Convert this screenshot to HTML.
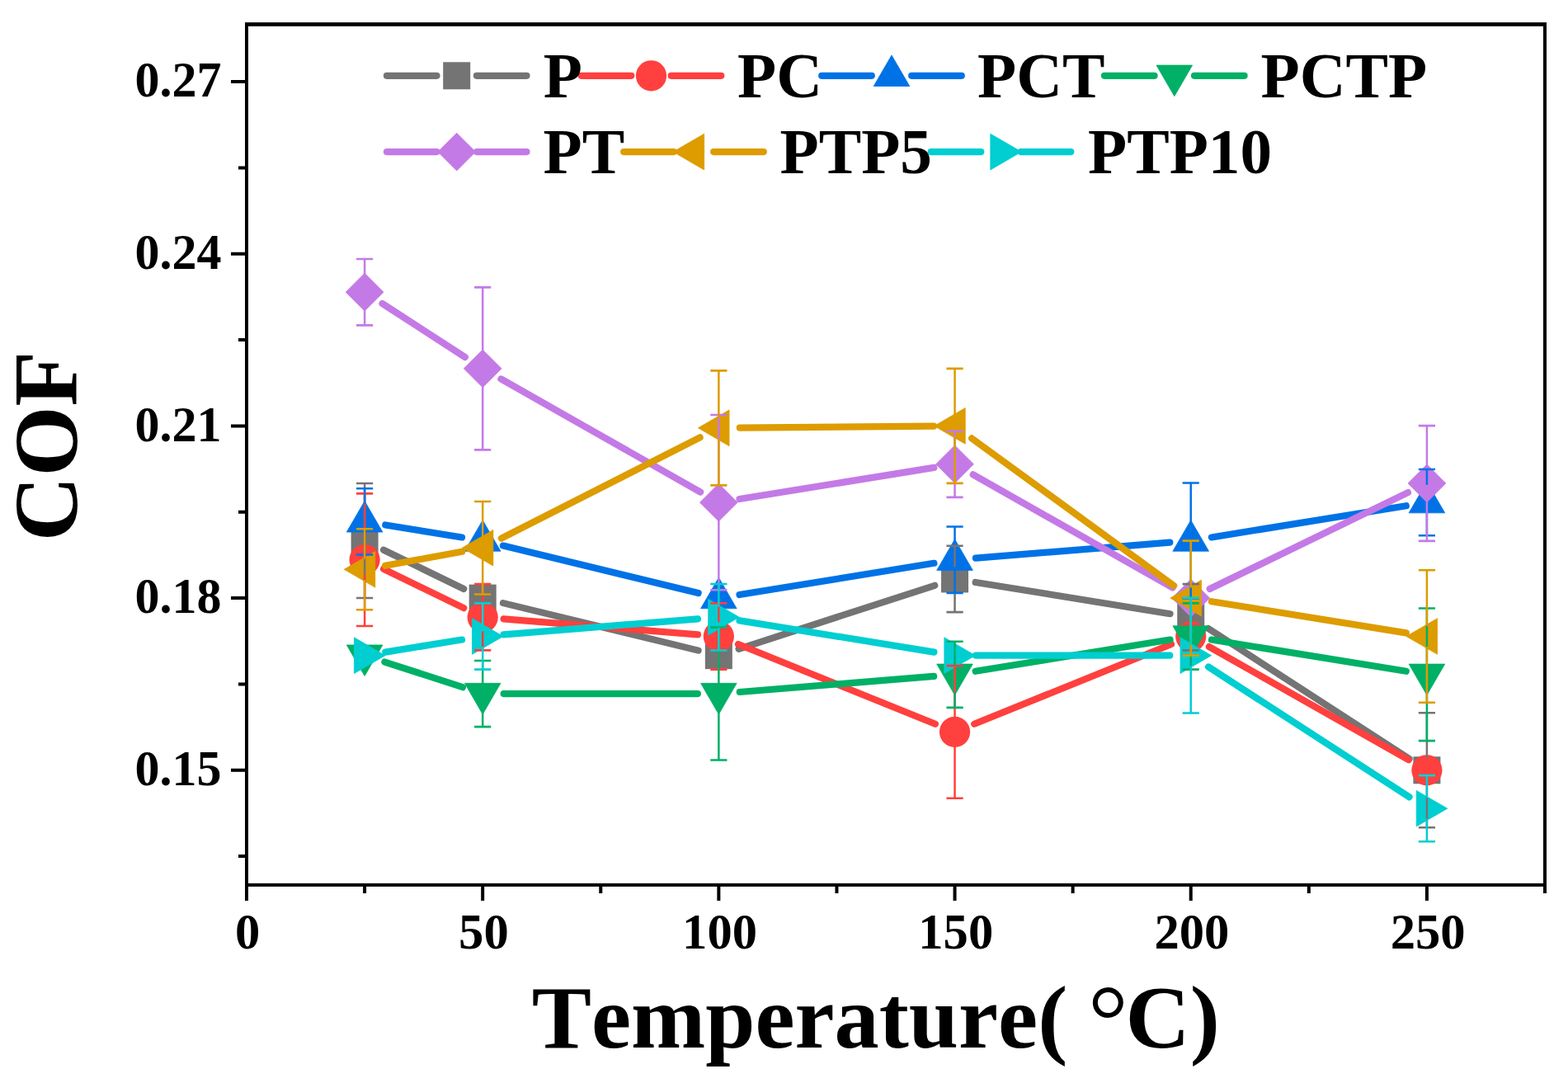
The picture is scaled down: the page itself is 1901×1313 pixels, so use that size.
<!DOCTYPE html>
<html lang="en"><head><meta charset="utf-8"><title>COF vs Temperature</title>
<style>html,body{margin:0;padding:0;background:#fff;}body{width:1901px;height:1313px;overflow:hidden;}svg{display:block;}text{font-family:"Liberation Serif","Times New Roman",Times,serif;font-weight:bold;fill:#000;font-kerning:none;font-variant-ligatures:none;}</style>
</head><body>
<svg width="1901" height="1313" viewBox="0 0 1901 1313">
<rect x="0" y="0" width="1901" height="1313" fill="#fff"/>
<g id="series">
<path d="M465.02 666.69L562.25 713.95M609.96 731.12L846.59 788.64M895.62 786.8L1133.29 709.8M1182.72 706.01L1418.55 744.19M1465.12 762.13L1708.51 919.91" fill="none" stroke="#747474" stroke-width="8.2" stroke-linecap="round"/>
<rect x="425.59" y="639.04" width="33" height="33" fill="#747474"/>
<rect x="568.68" y="708.6" width="33" height="33" fill="#747474"/>
<rect x="854.86" y="778.16" width="33" height="33" fill="#747474"/>
<rect x="1141.05" y="685.44" width="33" height="33" fill="#747474"/>
<rect x="1427.23" y="731.76" width="33" height="33" fill="#747474"/>
<rect x="1713.41" y="917.28" width="33" height="33" fill="#747474"/>
<path d="M465.02 689.85L562.25 737.11M610.6 750.33L845.95 769.43M895 781.07L1133.91 877.81M1181.18 877.81L1420.09 781.07M1465.91 784.08L1707.73 921.2" fill="none" stroke="#FF403E" stroke-width="8.2" stroke-linecap="round"/>
<circle cx="442.09" cy="678.7" r="18.6" fill="#FF403E"/>
<circle cx="585.18" cy="748.26" r="18.6" fill="#FF403E"/>
<circle cx="871.36" cy="771.5" r="18.6" fill="#FF403E"/>
<circle cx="1157.55" cy="887.38" r="18.6" fill="#FF403E"/>
<circle cx="1443.73" cy="771.5" r="18.6" fill="#FF403E"/>
<circle cx="1729.91" cy="933.78" r="18.6" fill="#FF403E"/>
<path d="M467.26 636.45L560.01 651.47M609.96 661.56L846.59 719.08M896.53 721.02L1132.37 682.78M1182.96 676.65L1418.31 657.6M1468.9 651.46L1704.74 613.22" fill="none" stroke="#0072E6" stroke-width="8.2" stroke-linecap="round"/>
<polygon points="442.09,607.48 463.89,645.08 420.29,645.08" fill="#0072E6" stroke="#0072E6" stroke-width="0.8" stroke-linejoin="round"/>
<polygon points="585.18,630.64 606.98,668.24 563.38,668.24" fill="#0072E6" stroke="#0072E6" stroke-width="0.8" stroke-linejoin="round"/>
<polygon points="871.36,700.2 893.16,737.8 849.56,737.8" fill="#0072E6" stroke="#0072E6" stroke-width="0.8" stroke-linejoin="round"/>
<polygon points="1157.55,653.8 1179.35,691.4 1135.75,691.4" fill="#0072E6" stroke="#0072E6" stroke-width="0.8" stroke-linejoin="round"/>
<polygon points="1443.73,630.64 1465.53,668.24 1421.93,668.24" fill="#0072E6" stroke="#0072E6" stroke-width="0.8" stroke-linejoin="round"/>
<polygon points="1729.91,584.24 1751.71,621.84 1708.11,621.84" fill="#0072E6" stroke="#0072E6" stroke-width="0.8" stroke-linejoin="round"/>
<path d="M466.35 802.53L560.93 833.19M610.68 841.06L845.86 841.06M896.78 838.99L1132.13 819.89M1182.72 813.75L1418.55 775.57M1468.9 775.57L1704.74 813.75" fill="none" stroke="#00B066" stroke-width="8.2" stroke-linecap="round"/>
<polygon points="442.09,819.56 463.89,781.96 420.29,781.96" fill="#00B066" stroke="#00B066" stroke-width="0.8" stroke-linejoin="round"/>
<polygon points="585.18,865.96 606.98,828.36 563.38,828.36" fill="#00B066" stroke="#00B066" stroke-width="0.8" stroke-linejoin="round"/>
<polygon points="871.36,865.96 893.16,828.36 849.56,828.36" fill="#00B066" stroke="#00B066" stroke-width="0.8" stroke-linejoin="round"/>
<polygon points="1157.55,842.72 1179.35,805.12 1135.75,805.12" fill="#00B066" stroke="#00B066" stroke-width="0.8" stroke-linejoin="round"/>
<polygon points="1443.73,796.4 1465.53,758.8 1421.93,758.8" fill="#00B066" stroke="#00B066" stroke-width="0.8" stroke-linejoin="round"/>
<polygon points="1729.91,842.72 1751.71,805.12 1708.11,805.12" fill="#00B066" stroke="#00B066" stroke-width="0.8" stroke-linejoin="round"/>
<path d="M463.49 368L563.78 432.99M607.36 459.44L849.18 596.56M896.54 605.07L1132.37 566.89M1179.73 575.4L1421.55 712.52M1466.66 713.95L1706.98 597.13" fill="none" stroke="#C47AE6" stroke-width="8.2" stroke-linecap="round"/>
<polygon points="442.09,331.24 464.99,354.14 442.09,377.04 419.19,354.14" fill="#C47AE6" stroke="#C47AE6" stroke-width="0.8" stroke-linejoin="round"/>
<polygon points="585.18,423.96 608.08,446.86 585.18,469.76 562.28,446.86" fill="#C47AE6" stroke="#C47AE6" stroke-width="0.8" stroke-linejoin="round"/>
<polygon points="871.36,586.24 894.26,609.14 871.36,632.04 848.46,609.14" fill="#C47AE6" stroke="#C47AE6" stroke-width="0.8" stroke-linejoin="round"/>
<polygon points="1157.55,539.92 1180.45,562.82 1157.55,585.72 1134.65,562.82" fill="#C47AE6" stroke="#C47AE6" stroke-width="0.8" stroke-linejoin="round"/>
<polygon points="1443.73,702.2 1466.63,725.1 1443.73,748 1420.83,725.1" fill="#C47AE6" stroke="#C47AE6" stroke-width="0.8" stroke-linejoin="round"/>
<polygon points="1729.91,563.08 1752.81,585.98 1729.91,608.88 1707.01,585.98" fill="#C47AE6" stroke="#C47AE6" stroke-width="0.8" stroke-linejoin="round"/>
<path d="M467.18 685.75L560.1 668.81M607.92 652.69L848.63 530.4M896.86 518.64L1132.05 516.64M1178.15 531.44L1423.12 710.08M1468.9 729.18L1704.74 767.42" fill="none" stroke="#DD9C00" stroke-width="8.2" stroke-linecap="round"/>
<polygon points="417.19,690.32 454.79,668.52 454.79,712.12" fill="#DD9C00" stroke="#DD9C00" stroke-width="0.8" stroke-linejoin="round"/>
<polygon points="560.28,664.24 597.88,642.44 597.88,686.04" fill="#DD9C00" stroke="#DD9C00" stroke-width="0.8" stroke-linejoin="round"/>
<polygon points="846.46,518.85 884.06,497.05 884.06,540.65" fill="#DD9C00" stroke="#DD9C00" stroke-width="0.8" stroke-linejoin="round"/>
<polygon points="1132.65,516.42 1170.25,494.62 1170.25,538.22" fill="#DD9C00" stroke="#DD9C00" stroke-width="0.8" stroke-linejoin="round"/>
<polygon points="1418.83,725.1 1456.43,703.3 1456.43,746.9" fill="#DD9C00" stroke="#DD9C00" stroke-width="0.8" stroke-linejoin="round"/>
<polygon points="1705.01,771.5 1742.61,749.7 1742.61,793.3" fill="#DD9C00" stroke="#DD9C00" stroke-width="0.8" stroke-linejoin="round"/>
<path d="M467.26 790.59L560.01 775.57M610.6 769.43L845.95 750.33M896.53 752.34L1132.37 790.58M1183.05 794.66L1418.23 794.66M1465.12 808.53L1708.51 966.31" fill="none" stroke="#00CED1" stroke-width="8.2" stroke-linecap="round"/>
<polygon points="466.99,794.66 429.39,772.86 429.39,816.46" fill="#00CED1" stroke="#00CED1" stroke-width="0.8" stroke-linejoin="round"/>
<polygon points="610.08,771.5 572.48,749.7 572.48,793.3" fill="#00CED1" stroke="#00CED1" stroke-width="0.8" stroke-linejoin="round"/>
<polygon points="896.26,748.26 858.66,726.46 858.66,770.06" fill="#00CED1" stroke="#00CED1" stroke-width="0.8" stroke-linejoin="round"/>
<polygon points="1182.45,794.66 1144.85,772.86 1144.85,816.46" fill="#00CED1" stroke="#00CED1" stroke-width="0.8" stroke-linejoin="round"/>
<polygon points="1468.63,794.66 1431.03,772.86 1431.03,816.46" fill="#00CED1" stroke="#00CED1" stroke-width="0.8" stroke-linejoin="round"/>
<polygon points="1754.81,980.18 1717.21,958.38 1717.21,1001.98" fill="#00CED1" stroke="#00CED1" stroke-width="0.8" stroke-linejoin="round"/>
</g>
<g id="errors" fill="none">
<path d="M442.09 641.04V586.04M442.09 670.04V725.04M1157.55 687.44V661.74M1157.55 716.44V742.14M1443.73 733.76V708.16M1443.73 762.76V788.36M1729.91 919.28V864.28M1729.91 948.28V1003.28" stroke="#747474" stroke-width="2.5"/><path d="M431.99 586.04H452.19M431.99 725.04H452.19M1147.45 661.74H1167.65M1147.45 742.14H1167.65M1433.63 708.16H1453.83M1433.63 788.36H1453.83M1719.81 864.28H1740.01M1719.81 1003.28H1740.01" stroke="#747474" stroke-width="2.6"/>
<path d="M442.09 661.7V598.4M442.09 695.7V759M585.18 731.26V708.16M585.18 765.26V788.36M871.36 754.5V731.4M871.36 788.5V811.6M1157.55 870.38V807.08M1157.55 904.38V967.68" stroke="#FF403E" stroke-width="2.5"/><path d="M431.99 598.4H452.19M431.99 759H452.19M575.08 708.16H595.28M575.08 788.36H595.28M861.26 731.4H881.46M861.26 811.6H881.46M1147.45 807.08H1167.65M1147.45 967.68H1167.65" stroke="#FF403E" stroke-width="2.6"/>
<path d="M442.09 610.88V592.28M442.09 643.38V672.48M1157.55 657.2V638.5M1157.55 689.7V718.9M1443.73 634.04V585.54M1443.73 666.54V725.54M1729.91 587.64V569.04M1729.91 620.14V649.24" stroke="#0072E6" stroke-width="2.5"/><path d="M431.99 592.28H452.19M431.99 672.48H452.19M1147.45 638.5H1167.65M1147.45 718.9H1167.65M1433.63 585.54H1453.83M1433.63 725.54H1453.83M1719.81 569.04H1740.01M1719.81 649.24H1740.01" stroke="#0072E6" stroke-width="2.6"/>
<path d="M585.18 830.06V800.96M585.18 862.56V881.16M871.36 830.06V760.66M871.36 862.56V921.46M1157.55 806.82V777.72M1157.55 839.32V857.92M1443.73 760.5V731.4M1443.73 793V811.6M1729.91 806.82V737.52M1729.91 839.32V898.12" stroke="#00B066" stroke-width="2.5"/><path d="M575.08 800.96H595.28M575.08 881.16H595.28M861.26 760.66H881.46M861.26 921.46H881.46M1147.45 777.72H1167.65M1147.45 857.92H1167.65M1433.63 731.4H1453.83M1433.63 811.6H1453.83M1719.81 737.52H1740.01M1719.81 898.12H1740.01" stroke="#00B066" stroke-width="2.6"/>
<path d="M442.09 333.14V313.94M442.09 375.14V394.34M585.18 425.86V348.36M585.18 467.86V545.36M871.36 588.14V503.04M871.36 630.14V715.24M1157.55 541.82V522.72M1157.55 583.82V602.92M1729.91 564.98V516.08M1729.91 606.98V655.88" stroke="#C47AE6" stroke-width="2.5"/><path d="M431.99 313.94H452.19M431.99 394.34H452.19M575.08 348.36H595.28M575.08 545.36H595.28M861.26 503.04H881.46M861.26 715.24H881.46M1147.45 522.72H1167.65M1147.45 602.92H1167.65M1719.81 516.08H1740.01M1719.81 655.88H1740.01" stroke="#C47AE6" stroke-width="2.6"/>
<path d="M442.09 677.72V641.32M442.09 702.92V739.32M585.18 651.64V608.04M585.18 676.84V720.44M871.36 506.25V449.35M871.36 531.45V588.35M1157.55 503.82V446.92M1157.55 529.02V585.92M1443.73 712.5V655.6M1443.73 737.7V794.6M1729.91 758.9V691.2M1729.91 784.1V851.8" stroke="#DD9C00" stroke-width="2.5"/><path d="M431.99 641.32H452.19M431.99 739.32H452.19M575.08 608.04H595.28M575.08 720.44H595.28M861.26 449.35H881.46M861.26 588.35H881.46M1147.45 446.92H1167.65M1147.45 585.92H1167.65M1433.63 655.6H1453.83M1433.63 794.6H1453.83M1719.81 691.2H1740.01M1719.81 851.8H1740.01" stroke="#DD9C00" stroke-width="2.6"/>
<path d="M585.18 758.9V731.4M585.18 784.1V811.6M871.36 735.66V707.96M871.36 760.86V788.56M1443.73 782.06V724.86M1443.73 807.26V864.46M1729.91 967.58V940.08M1729.91 992.78V1020.28" stroke="#00CED1" stroke-width="2.5"/><path d="M575.08 731.4H595.28M575.08 811.6H595.28M861.26 707.96H881.46M861.26 788.56H881.46M1433.63 724.86H1453.83M1433.63 864.46H1453.83M1719.81 940.08H1740.01M1719.81 1020.28H1740.01" stroke="#00CED1" stroke-width="2.6"/>
</g>
<g id="axes" stroke="#000" stroke-width="4" fill="none">
<rect x="299" y="29.5" width="1574" height="1043.4"/>
<path d="M297 29.5H1875" stroke-width="4.6"/>
<path d="M299 1072.9V1091.9M442.09 1072.9V1082.9M585.18 1072.9V1091.9M728.27 1072.9V1082.9M871.36 1072.9V1091.9M1014.45 1072.9V1082.9M1157.55 1072.9V1091.9M1300.64 1072.9V1082.9M1443.73 1072.9V1091.9M1586.82 1072.9V1082.9M1729.91 1072.9V1091.9M1873 1072.9V1082.9M299 1038.12H289M299 933.78H280M299 829.44H289M299 725.1H280M299 620.76H289M299 516.42H280M299 412.08H289M299 307.74H280M299 203.4H289M299 99.06H280"/>
</g>
<g id="ticklabels" font-size="60">
<text transform="translate(268.4 951.98) scale(1 1.03)" text-anchor="end">0.15</text>
<text transform="translate(268.4 743.3) scale(1 1.03)" text-anchor="end">0.18</text>
<text transform="translate(268.4 534.62) scale(1 1.03)" text-anchor="end">0.21</text>
<text transform="translate(268.4 325.94) scale(1 1.03)" text-anchor="end">0.24</text>
<text transform="translate(268.4 117.26) scale(1 1.03)" text-anchor="end">0.27</text>
<text transform="translate(300.2 1150.1) scale(1.01 1.03)" text-anchor="middle">0</text>
<text transform="translate(586.38 1150.1) scale(1.01 1.03)" text-anchor="middle">50</text>
<text transform="translate(872.56 1150.1) scale(1.01 1.03)" text-anchor="middle">100</text>
<text transform="translate(1158.75 1150.1) scale(1.01 1.03)" text-anchor="middle">150</text>
<text transform="translate(1444.93 1150.1) scale(1.01 1.03)" text-anchor="middle">200</text>
<text transform="translate(1731.11 1150.1) scale(1.01 1.03)" text-anchor="middle">250</text>
</g>
<text x="1061.8" y="1269.6" font-size="108.3" text-anchor="middle" xml:space="preserve" style="white-space:pre">Temperature( <tspan font-weight="normal" font-size="122" dx="-2.3" dy="9.6">°</tspan><tspan dx="-3.2" dy="-9.6">C)</tspan></text>
<text transform="translate(93.1 541) rotate(-90)" font-size="109.3" text-anchor="middle">COF</text>
<g id="legend">
<path d="M468.9 91.8H529.5M577.9 91.8H638.5" fill="none" stroke="#747474" stroke-width="8.2" stroke-linecap="round"/><rect x="537.2" y="75.3" width="33" height="33" fill="#747474"/>
<path d="M704.7 91.8H765.3M813.7 91.8H874.3" fill="none" stroke="#FF403E" stroke-width="8.2" stroke-linecap="round"/><circle cx="789.5" cy="91.8" r="18.6" fill="#FF403E"/>
<path d="M996.2 91.8H1056.8M1105.2 91.8H1165.8" fill="none" stroke="#0072E6" stroke-width="8.2" stroke-linecap="round"/><polygon points="1081,66.9 1102.8,104.5 1059.2,104.5" fill="#0072E6" stroke="#0072E6" stroke-width="0.8" stroke-linejoin="round"/>
<path d="M1339 91.8H1399.6M1448 91.8H1508.6" fill="none" stroke="#00B066" stroke-width="8.2" stroke-linecap="round"/><polygon points="1423.8,116.7 1445.6,79.1 1402,79.1" fill="#00B066" stroke="#00B066" stroke-width="0.8" stroke-linejoin="round"/>
<path d="M468.9 184.1H529.5M577.9 184.1H638.5" fill="none" stroke="#C47AE6" stroke-width="8.2" stroke-linecap="round"/><polygon points="553.7,161.2 576.6,184.1 553.7,207 530.8,184.1" fill="#C47AE6" stroke="#C47AE6" stroke-width="0.8" stroke-linejoin="round"/>
<path d="M756.2 184.1H816.8M865.2 184.1H925.8" fill="none" stroke="#DD9C00" stroke-width="8.2" stroke-linecap="round"/><polygon points="816.1,184.1 853.7,162.3 853.7,205.9" fill="#DD9C00" stroke="#DD9C00" stroke-width="0.8" stroke-linejoin="round"/>
<path d="M1128.7 184.1H1189.3M1237.7 184.1H1298.3" fill="none" stroke="#00CED1" stroke-width="8.2" stroke-linecap="round"/><polygon points="1238.4,184.1 1200.8,162.3 1200.8,205.9" fill="#00CED1" stroke="#00CED1" stroke-width="0.8" stroke-linejoin="round"/>
</g>
<g id="legendtext"><text x="658.7" y="117.9" font-size="77.2">P</text><text x="894" y="117.9" font-size="77.2">PC</text><text x="1185" y="117.9" font-size="77.2">PCT</text><text x="1528.5" y="117.9" font-size="77.2">PCTP</text><text x="658.5" y="209.6" font-size="77.2">PT</text><text x="945.5" y="209.6" font-size="77.2">PTP5</text><text x="1319" y="209.6" font-size="77.2">PTP10</text></g>
</svg></body></html>
